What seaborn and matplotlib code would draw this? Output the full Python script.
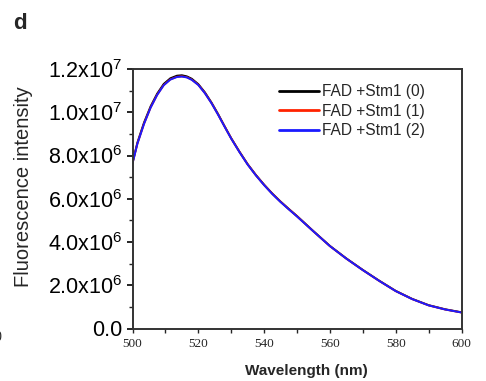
import numpy as np
import pandas as pd
import matplotlib
matplotlib.use("Agg")
import matplotlib.pyplot as plt
import seaborn as sns
from matplotlib.ticker import MultipleLocator

# ---- data ----
wavelength = [500, 501.5, 503.5, 505.5, 507.5, 509.5, 511.5, 513.5, 515, 516.5,
              518, 520, 522, 524, 526, 528, 530, 532.5, 535, 537.5, 540, 542.5,
              545, 547.5, 550, 555, 560, 565, 570, 575, 580, 585, 590, 595, 600]
stm1_0 = [7.67e6, 8.60e6, 9.52e6, 10.27e6, 10.86e6, 11.31e6, 11.57e6, 11.69e6,
          11.71e6, 11.66e6, 11.55e6, 11.30e6, 10.92e6, 10.45e6, 9.92e6, 9.35e6,
          8.80e6, 8.18e6, 7.60e6, 7.10e6, 6.65e6, 6.24e6, 5.87e6, 5.53e6,
          5.20e6, 4.50e6, 3.82e6, 3.24e6, 2.71e6, 2.21e6, 1.74e6, 1.37e6,
          1.08e6, 0.89e6, 0.75e6]
stm1_1 = [7.64e6, 8.56e6, 9.47e6, 10.22e6, 10.81e6, 11.26e6, 11.52e6, 11.64e6,
          11.66e6, 11.62e6, 11.51e6, 11.27e6, 10.89e6, 10.43e6, 9.90e6, 9.34e6,
          8.79e6, 8.17e6, 7.59e6, 7.09e6, 6.64e6, 6.23e6, 5.86e6, 5.52e6,
          5.19e6, 4.49e6, 3.81e6, 3.23e6, 2.70e6, 2.20e6, 1.73e6, 1.36e6,
          1.07e6, 0.88e6, 0.74e6]
stm1_2 = [7.63e6, 8.55e6, 9.46e6, 10.21e6, 10.80e6, 11.25e6, 11.51e6, 11.63e6,
          11.65e6, 11.61e6, 11.50e6, 11.26e6, 10.88e6, 10.42e6, 9.89e6, 9.33e6,
          8.78e6, 8.16e6, 7.58e6, 7.08e6, 6.63e6, 6.22e6, 5.85e6, 5.51e6,
          5.18e6, 4.49e6, 3.81e6, 3.23e6, 2.70e6, 2.20e6, 1.73e6, 1.36e6,
          1.07e6, 0.88e6, 0.74e6]
series_names = ["FAD +Stm1 (0)", "FAD +Stm1 (1)", "FAD +Stm1 (2)"]
colors = ["#000000", "#ff2200", "#1a1aff"]
x_ticks = [500, 520, 540, 560, 580, 600]
y_ticks = [0, 2e6, 4e6, 6e6, 8e6, 1.0e7, 1.2e7]
y_tick_labels = ["0.0", r"2.0x10$^{6}$", r"4.0x10$^{6}$", r"6.0x10$^{6}$",
                 r"8.0x10$^{6}$", r"1.0x10$^{7}$", r"1.2x10$^{7}$"]

df = pd.concat([
    pd.DataFrame({"wl": wavelength, "val": vals, "series": name})
    for name, vals in zip(series_names, [stm1_0, stm1_1, stm1_2])
], ignore_index=True)

sns.set_style("ticks")
plt.rcParams["font.family"] = ["Liberation Sans", "DejaVu Sans"]
plt.rcParams["mathtext.fontset"] = "custom"
plt.rcParams["mathtext.rm"] = "Liberation Sans"
plt.rcParams["mathtext.default"] = "regular"

fig = plt.figure(figsize=(4.86, 3.81), dpi=100)
ax = fig.add_axes([132.5 / 486, 1 - 328.5 / 381, (461.5 - 132.5) / 486, (328.5 - 69) / 381])

sns.lineplot(data=df, x="wl", y="val", hue="series", palette=colors,
             linewidth=1.4, ax=ax, sort=False)

ax.set_xlim(500, 600)
ax.set_ylim(0, 1.2e7)
ax.set_xticks(x_ticks)
ax.set_xticklabels([str(t) for t in x_ticks], family="Liberation Serif", fontsize=9.5)
ax.xaxis.set_minor_locator(MultipleLocator(10))
ax.set_yticks(y_ticks)
ax.set_yticklabels(y_tick_labels, fontsize=15.5)
ax.yaxis.set_minor_locator(MultipleLocator(1e6))

ax.tick_params(axis="y", which="major", direction="out", length=4, width=1.2, pad=3, colors="black")
ax.tick_params(axis="y", which="minor", direction="out", length=3, width=1.0)
ax.tick_params(axis="x", which="both", direction="out", length=3, width=1.0, pad=4)

for side in ["left", "bottom", "top", "right"]:
    ax.spines[side].set_visible(True)
    ax.spines[side].set_linewidth(1.4)
    ax.spines[side].set_color("#333333")

ax.set_xlabel("Wavelength (nm)", fontsize=11, fontweight="bold")
ax.xaxis.set_label_coords((306.5 - 132.5) / 329, -0.137)
ax.set_ylabel("Fluorescence intensity", fontsize=14.5)
ax.yaxis.set_label_coords((33 - 132.5) / 329, 0.545)

leg = ax.legend(loc="upper left", frameon=False, fontsize=11.2, handlelength=2.6,
                handletextpad=0.15, labelspacing=0.28, borderaxespad=0, borderpad=0,
                bbox_to_anchor=((279 - 132.5) / 329, 0.941))
for line in leg.get_lines():
    line.set_linewidth(2.0)

fig.text(13 / 486, 1 - 29 / 381, "d", fontsize=16, fontweight="bold")
fig.text(-5 / 486, 1 - 341 / 381, "0", fontsize=10, family="Liberation Serif")

fig.savefig("out.png", dpi=100)
